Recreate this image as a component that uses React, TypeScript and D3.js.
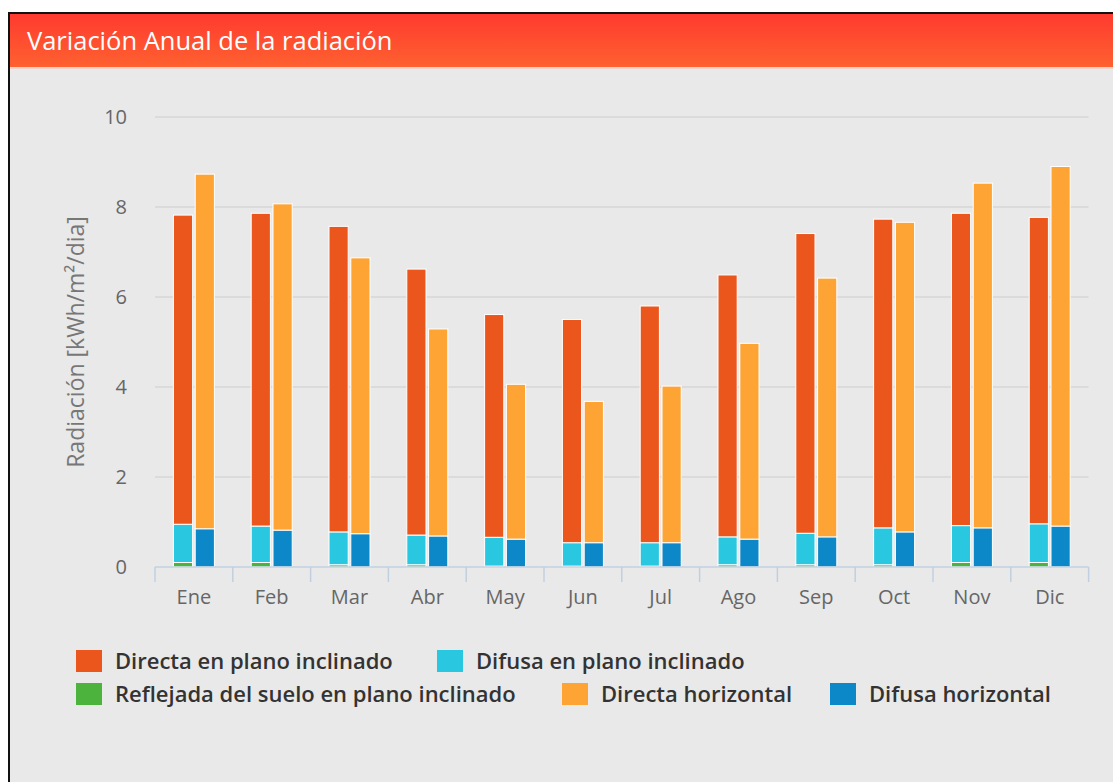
import React from 'react';
import * as d3 from 'd3';

const months = ['Ene', 'Feb', 'Mar', 'Abr', 'May', 'Jun', 'Jul', 'Ago', 'Sep', 'Oct', 'Nov', 'Dic'];

// plano inclinado (stacked: reflejada, difusa, directa)
const reflejada = [0.1, 0.1, 0.05, 0.05, 0.02, 0.02, 0.02, 0.05, 0.05, 0.05, 0.1, 0.1];
const difusaInclinada = [0.85, 0.81, 0.73, 0.66, 0.64, 0.52, 0.52, 0.62, 0.7, 0.82, 0.82, 0.86];
const directaInclinada = [6.87, 6.95, 6.79, 5.91, 4.95, 4.96, 5.26, 5.82, 6.66, 6.86, 6.94, 6.81];

// horizontal (stacked: difusa, directa)
const difusaHorizontal = [0.85, 0.82, 0.74, 0.69, 0.62, 0.54, 0.54, 0.62, 0.67, 0.78, 0.87, 0.91];
const directaHorizontal = [7.88, 7.25, 6.13, 4.6, 3.44, 3.14, 3.48, 4.35, 5.75, 6.88, 7.66, 7.99];

const yTicks = [0, 2, 4, 6, 8, 10];

const colors = {
  directaInc: '#eb561d',
  difusaInc: '#2ac8e0',
  reflejada: '#4cb33c',
  directaHor: '#fda434',
  difusaHor: '#0c87c7',
};

const legendRows = [
  [
    { label: 'Directa en plano inclinado', color: colors.directaInc, x: 76 },
    { label: 'Difusa en plano inclinado', color: colors.difusaInc, x: 437 },
  ],
  [
    { label: 'Reflejada del suelo en plano inclinado', color: colors.reflejada, x: 76 },
    { label: 'Directa horizontal', color: colors.directaHor, x: 562 },
    { label: 'Difusa horizontal', color: colors.difusaHor, x: 830 },
  ],
];

const W = 1113, H = 782;
const font = '"Open Sans", sans-serif';

export default function App() {
  const x = d3.scaleBand<string>().domain(months).range([155, 1088.6]);
  const bw = x.bandwidth();
  const sub = d3.scaleBand<string>().domain(['inc', 'hor'])
    .range([bw / 2 - 20.5, bw / 2 + 20.5]).paddingInner(0.12);
  const y = d3.scaleLinear().domain([0, 10]).range([567, 117]);

  const incRows = months.map((m, i) => ({
    m, reflejada: reflejada[i], difusa: difusaInclinada[i], directa: directaInclinada[i],
  }));
  const horRows = months.map((m, i) => ({
    m, difusa: difusaHorizontal[i], directa: directaHorizontal[i],
  }));
  const incStack = d3.stack<any>().keys(['reflejada', 'difusa', 'directa'])(incRows);
  const horStack = d3.stack<any>().keys(['difusa', 'directa'])(horRows);
  const incColors: Record<string, string> = {
    reflejada: colors.reflejada, difusa: colors.difusaInc, directa: colors.directaInc,
  };
  const horColors: Record<string, string> = {
    difusa: colors.difusaHor, directa: colors.directaHor,
  };

  const [x0, x1] = x.range();

  return (
    <svg width={W} height={H} style={{ position: 'absolute', left: 0, top: 0, display: 'block' }}>
      <defs>
        <linearGradient id="head" x1="0" y1="0" x2="0" y2="1">
          <stop offset="0%" stopColor="#ff3a30" />
          <stop offset="100%" stopColor="#fe612f" />
        </linearGradient>
      </defs>
      <rect x={0} y={0} width={W} height={H} fill="#fff" />
      <rect x={9} y={13} width={W + 10} height={H + 10} fill="#e9e9e9" stroke="#111" strokeWidth={2} />
      <rect x={10} y={14} width={W} height={53} fill="url(#head)" />
      <rect x={10} y={67} width={W} height={2} fill="#f0c0b0" opacity={0.5} />
      <text x={27} y={50} fill="#fff" fontFamily={font} fontSize={25.5}>Variación Anual de la radiación</text>

      {/* grid */}
      {yTicks.filter(t => t > 0).map(t => (
        <line key={t} x1={x0} x2={x1} y1={y(t)} y2={y(t)} stroke="#d6d6d6" strokeWidth={1.5} />
      ))}
      {yTicks.map(t => (
        <text key={t} x={127} y={y(t)} dy="0.35em" textAnchor="end" fill="#666"
          fontFamily={font} fontSize={20}>{t}</text>
      ))}
      <text transform={`translate(76,${(y(0) + y(10)) / 2}) rotate(-90)`} textAnchor="middle"
        dy="0.35em" fill="#777" fontFamily={font} fontSize={23}>Radiación [kWh/m²/dia]</text>

      {/* bars */}
      {incStack.map(layer => (
        <g key={'i' + layer.key} fill={incColors[layer.key]}>
          {layer.map((d, i) => (
            <rect key={i} x={(x(months[i]) as number) + (sub('inc') as number)} width={sub.bandwidth()}
              y={y(d[1])} height={Math.max(0, y(d[0]) - y(d[1]))} stroke="#fff" strokeWidth={1} />
          ))}
        </g>
      ))}
      {horStack.map(layer => (
        <g key={'h' + layer.key} fill={horColors[layer.key]}>
          {layer.map((d, i) => (
            <rect key={i} x={(x(months[i]) as number) + (sub('hor') as number)} width={sub.bandwidth()}
              y={y(d[1])} height={Math.max(0, y(d[0]) - y(d[1]))} stroke="#fff" strokeWidth={1} />
          ))}
        </g>
      ))}

      {/* x axis */}
      <line x1={x0} x2={x1} y1={y(0)} y2={y(0)} stroke="#c0d0e0" strokeWidth={1.5} />
      {[...months.map(m => x(m) as number), x1].map((tx, i) => (
        <line key={i} x1={tx} x2={tx} y1={y(0)} y2={y(0) + 15} stroke="#c0d0e0" strokeWidth={1.5} />
      ))}
      {months.map(m => (
        <text key={m} x={(x(m) as number) + bw / 2} y={604} textAnchor="middle" fill="#666"
          fontFamily={font} fontSize={20}>{m}</text>
      ))}

      {/* legend */}
      {legendRows.map((row, r) => row.map(item => (
        <g key={item.label} transform={`translate(${item.x},${650 + r * 33})`}>
          <rect width={26} height={22} fill={item.color} />
          <text x={39} y={11} dy="0.35em" fill="#333" fontFamily={font} fontWeight={600}
            fontSize={22}>{item.label}</text>
        </g>
      )))}
    </svg>
  );
}
